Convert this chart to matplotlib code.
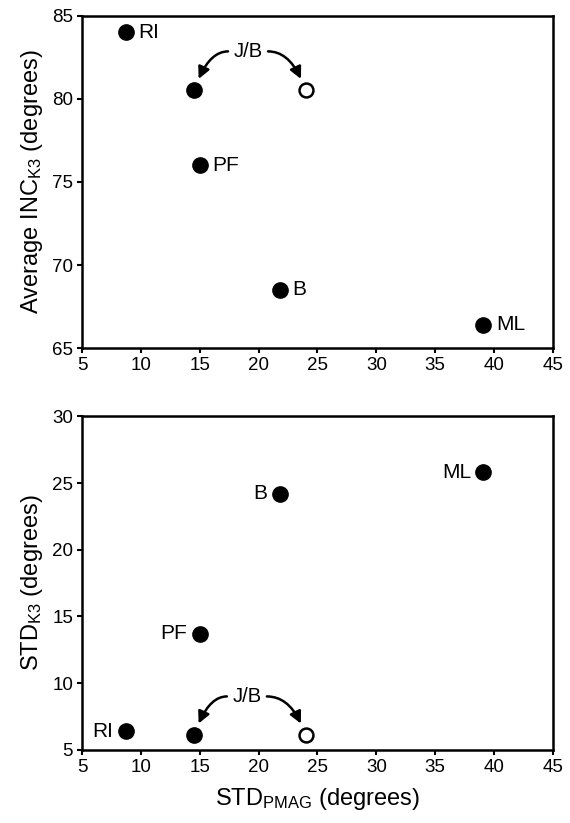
import matplotlib
matplotlib.use("Agg")
import matplotlib.pyplot as plt

plt.rcParams["font.family"] = ["Liberation Sans", "DejaVu Sans"]
plt.rcParams["mathtext.default"] = "regular"

# values
sites = ["RI", "J/B", "PF", "B", "ML"]
std_pmag = [8.7, 14.5, 15.0, 21.8, 39.1]
avg_inc_k3 = [84.0, 80.5, 76.0, 68.5, 66.4]
std_k3 = [6.4, 6.1, 13.7, 24.2, 25.8]

# J/B alternative (open circle)
jb_alt_pmag = 24.0
jb_alt_inc = 80.5
jb_alt_std = 6.1

x_ticks = [5, 10, 15, 20, 25, 30, 35, 40, 45]
inc_ticks = [65, 70, 75, 80, 85]
std_ticks = [5, 10, 15, 20, 25, 30]

fig = plt.figure(figsize=(5.7, 8.23), dpi=100)
ax1 = fig.add_axes([0.144, 0.577, 0.826, 0.404])
ax2 = fig.add_axes([0.144, 0.089, 0.826, 0.405])


def style_axes(ax):
    for sp in ax.spines.values():
        sp.set_linewidth(1.8)
    ax.tick_params(direction="out", length=3.5, width=1.5, labelsize=13.5, pad=3)
    ax.set_xlim(5, 45)
    ax.set_xticks(x_ticks)


def jb_arrows(ax, text_xy, left_pt, right_pt, dx):
    tx, ty = text_xy
    ax.text(tx, ty, "J/B", fontsize=14.5, ha="center", va="center")
    for pt, sx, ang in [(left_pt, tx - dx, 70), (right_pt, tx + dx, 110)]:
        ax.annotate("", xy=pt, xytext=(sx, ty),
                    arrowprops=dict(arrowstyle="-|>,head_length=0.7,head_width=0.35",
                                    color="black", lw=1.8, shrinkA=0, shrinkB=9,
                                    connectionstyle="angle3,angleA=0,angleB=%d" % ang))


# top panel
style_axes(ax1)
ax1.set_ylim(65, 85)
ax1.set_yticks(inc_ticks)
ax1.plot(std_pmag, avg_inc_k3, "o", color="black", markersize=11, zorder=3)
ax1.plot([jb_alt_pmag], [jb_alt_inc], "o", markerfacecolor="white",
         markeredgecolor="black", markeredgewidth=1.8, markersize=10, zorder=3)
for name, x, y in zip(sites, std_pmag, avg_inc_k3):
    if name == "J/B":
        continue
    ax1.annotate(name, (x, y), xytext=(9, 0), textcoords="offset points",
                 fontsize=15, va="center", ha="left")
jb_arrows(ax1, (19.1, 82.85), (std_pmag[1], avg_inc_k3[1]), (jb_alt_pmag, jb_alt_inc), 1.7)
ax1.set_ylabel("Average INC$_{K3}$ (degrees)", fontsize=17, labelpad=5)

# bottom panel
style_axes(ax2)
ax2.set_ylim(5, 30)
ax2.set_yticks(std_ticks)
ax2.plot(std_pmag, std_k3, "o", color="black", markersize=11, zorder=3)
ax2.plot([jb_alt_pmag], [jb_alt_std], "o", markerfacecolor="white",
         markeredgecolor="black", markeredgewidth=1.8, markersize=10, zorder=3)
for name, x, y in zip(sites, std_pmag, std_k3):
    if name == "J/B":
        continue
    ax2.annotate(name, (x, y), xytext=(-9, 0), textcoords="offset points",
                 fontsize=15, va="center", ha="right")
jb_arrows(ax2, (19.0, 9.0), (std_pmag[1], std_k3[1]), (jb_alt_pmag, jb_alt_std), 1.7)
ax2.set_ylabel("STD$_{K3}$ (degrees)", fontsize=17, labelpad=5)
ax2.set_xlabel("STD$_{PMAG}$ (degrees)", fontsize=17, labelpad=7)

fig.savefig("out.png", dpi=100)
